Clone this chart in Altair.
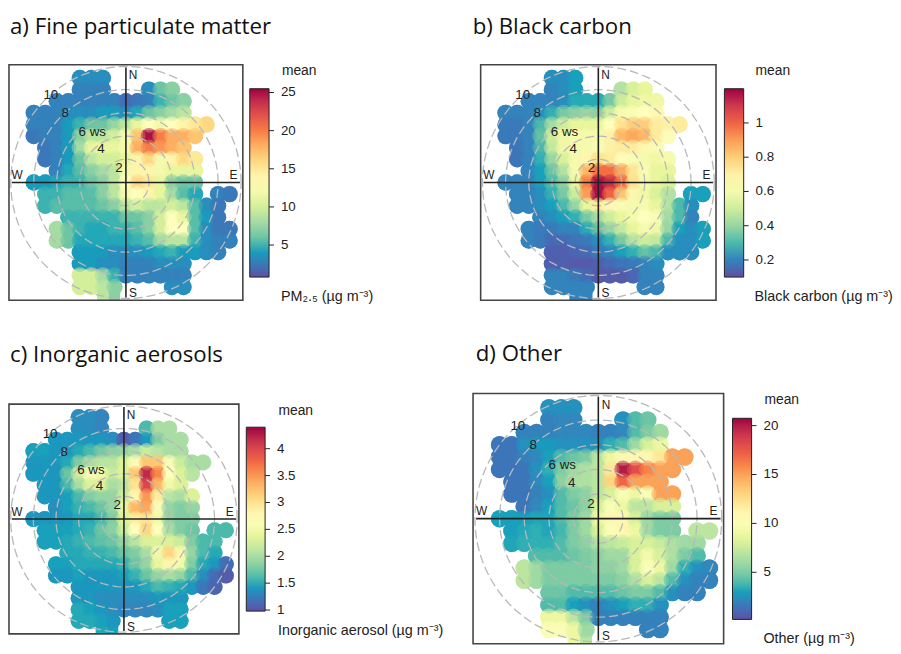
import altair as alt
import pandas as pd
import math

ROWS_V = [9, 8, 7, 6, 5, 4, 3, 2, 1, 0, -1, -2, -3, -4, -5, -6, -7, -8, -9, -10]
ROWS_U = [
    [-4, -3, -2],
    [-4, -3, -2, 2, 3, 4],
    list(range(-6, 6)),
    list(range(-8, 6)),
    list(range(-8, 8)),
    list(range(-8, 7)),
    list(range(-7, 6)),
    list(range(-7, 7)),
    list(range(-6, 7)),
    list(range(-8, 7)),
    list(range(-7, 7)) + [8, 9],
    list(range(-7, 9)),
    list(range(-5, 9)),
    list(range(-6, 10)),
    list(range(-6, 10)),
    list(range(-4, 9)),
    list(range(-4, 6)),
    list(range(-4, 6)),
    [-4, -3, -2, -1, 4, 5],
    [-2, -1],
]

PM25 = [
    [3.5, 3.5, 3.5],
    [3, 3, 3, 3.5, 6, 7],
    [3, 3, 3, 3, 3, 3, 2, 2.5, 3, 5, 6, 7],
    [3, 3, 3, 3.5, 3.5, 3.5, 4, 4, 3.5, 4.5, 6, 7, 8, 9],
    [3, 3, 3, 4, 5, 6, 6, 7.5, 9, 11, 13, 12, 13, 14, 15, 16],
    [2.5, 3, 3, 4, 7, 9, 9, 10, 12, 17, 25, 20, 18, 18, 17],
    [2.5, 3, 4, 8, 11, 11, 11, 12, 18, 20, 19, 18, 17],
    [2.5, 3, 4, 6, 9, 10, 10, 11, 14, 16, 12, 14, 16, 15],
    [3, 4.5, 5.5, 7, 8, 9, 12, 14, 14, 12, 11, 11, 11],
    [4, 4, 4.5, 5, 5, 6, 7, 9, 13, 16, 15, 11, 7, 6, 6],
    [5, 5, 5.5, 5.5, 5.5, 7, 9, 12, 13, 14, 11, 8, 5.5, 4.5, 3, 2.5],
    [5, 5.5, 5.5, 5.5, 5.5, 6, 7, 9, 10, 9, 9, 10, 9, 5.5, 3.5, 2.5],
    [5, 5, 5, 5, 5, 6, 6, 7, 10, 13, 11, 5.5, 4, 2.5],
    [8, 6, 5, 4.5, 4.5, 5, 5, 5.5, 7, 10, 13, 13, 5.5, 3.5, 2.5, 2.5],
    [8, 6, 4.5, 4.5, 4.5, 4.5, 4.5, 5, 5.5, 8, 9, 9, 5, 3.5, 3, 3],
    [4, 4, 4, 3.5, 3.5, 3.5, 4, 4.5, 5, 4, 4, 3.5, 3],
    [4, 4, 3.5, 3.5, 3, 3, 3, 3.5, 3.5, 3.5],
    [10, 10, 8, 5, 3, 3, 3, 3, 3, 3],
    [10, 10, 9, 7, 3.5, 3.5],
    [9, 7],
]

BC = [
    [.22, .22, .25],
    [.2, .22, .25, .45, .52, .55],
    [.2, .2, .2, .22, .27, .27, .27, .35, .5, .55, .58, .58],
    [.2, .2, .2, .22, .28, .35, .38, .4, .38, .5, .6, .62, .65, .68],
    [.18, .18, .2, .3, .42, .5, .55, .55, .55, .65, .75, .8, .8, .72, .7, .72],
    [.18, .18, .2, .32, .5, .58, .6, .6, .6, .7, .85, .88, .85, .72, .66],
    [.17, .2, .3, .48, .58, .6, .6, .62, .7, .72, .72, .68, .62],
    [.17, .2, .28, .4, .52, .6, .68, .75, .72, .66, .62, .6, .58, .6],
    [.2, .25, .33, .45, .6, .85, .98, .98, .88, .74, .62, .55, .55],
    [.2, .2, .2, .25, .3, .38, .55, .95, 1.18, 1.12, .98, .75, .6, .55, .52],
    [.2, .2, .22, .28, .35, .5, .9, 1.18, 1.0, .82, .68, .58, .52, .45, .25, .25],
    [.2, .2, .22, .25, .3, .4, .55, .72, .68, .62, .6, .6, .55, .45, .3, .22],
    [.2, .22, .25, .28, .35, .42, .5, .55, .6, .65, .62, .42, .3, .2],
    [.2, .18, .18, .2, .2, .27, .32, .4, .48, .55, .6, .58, .4, .25, .22, .25],
    [.2, .18, .15, .15, .17, .18, .22, .28, .35, .45, .5, .48, .3, .22, .22, .25],
    [.13, .13, .14, .15, .18, .2, .25, .28, .32, .3, .22, .22, .22],
    [.13, .13, .12, .12, .13, .15, .17, .18, .2, .22],
    [.2, .2, .18, .15, .12, .12, .12, .14, .2, .2],
    [.2, .2, .2, .2, .2, .2],
    [.2, .2],
]

INORGANIC = [
    [1.35, 1.35, 1.3],
    [1.35, 1.35, 1.3, 1.6, 2.0, 2.0],
    [1.4, 1.4, 1.4, 1.4, 1.4, 1.35, 1.05, 1.2, 1.4, 1.8, 2, 2],
    [1.45, 1.45, 1.4, 1.4, 1.5, 1.6, 1.75, 1.85, 1.9, 2.0, 2.2, 2.1, 2.0, 2.0],
    [1.4, 1.4, 1.4, 1.5, 1.8, 2.0, 2.1, 2.1, 2.3, 2.6, 3.2, 3.2, 2.6, 2.2, 2.0, 2.0],
    [1.4, 1.4, 1.4, 1.7, 2.2, 2.6, 2.5, 2.2, 2.3, 3.2, 4.2, 3.6, 2.7, 2.3, 2.1],
    [1.4, 1.4, 1.6, 2.0, 2.3, 2.3, 2, 2.1, 3.0, 4.0, 3.3, 2.5, 2.3],
    [1.4, 1.4, 1.45, 1.6, 1.8, 1.9, 1.9, 2.2, 2.8, 3.5, 2.9, 2.1, 2.0, 2.3],
    [1.35, 1.45, 1.55, 1.6, 1.7, 1.9, 2.4, 3.3, 3.4, 2.6, 1.9, 1.8, 1.9],
    [1.4, 1.4, 1.4, 1.4, 1.5, 1.5, 1.6, 1.8, 2.3, 2.9, 3.0, 2.5, 1.9, 1.8, 1.8],
    [1.45, 1.45, 1.45, 1.5, 1.55, 1.7, 1.85, 2.2, 2.7, 3.1, 2.7, 2, 1.8, 1.7, 1.6, 1.6],
    [1.45, 1.45, 1.5, 1.55, 1.6, 1.65, 1.7, 1.9, 2.1, 2.3, 2.3, 2.3, 2.2, 1.8, 1.6, 1.6],
    [1.5, 1.5, 1.55, 1.55, 1.6, 1.7, 1.8, 2.0, 2.5, 3.1, 2.8, 1.9, 1.6, 1.5],
    [1.45, 1.45, 1.5, 1.5, 1.5, 1.5, 1.55, 1.7, 1.9, 2.4, 2.8, 2.5, 1.8, 1.5, 1.4, 1.15],
    [1.4, 1.4, 1.45, 1.4, 1.4, 1.4, 1.45, 1.55, 1.7, 1.9, 2.0, 1.9, 1.6, 1.35, 1.15, 1.05],
    [1.4, 1.4, 1.4, 1.4, 1.4, 1.4, 1.5, 1.6, 1.55, 1.5, 1.4, 1.2, 1.1],
    [1.4, 1.4, 1.35, 1.35, 1.35, 1.35, 1.35, 1.4, 1.4, 1.4],
    [1.5, 1.45, 1.4, 1.35, 1.3, 1.3, 1.3, 1.35, 1.45, 1.45],
    [1.5, 1.5, 1.45, 1.4, 1.45, 1.45],
    [1.5, 1.45],
]

OTHER = [
    [2.5, 2.5, 2.5],
    [2, 2.2, 2.2, 2.5, 4, 4.5],
    [2, 2, 2, 2.2, 2.2, 2.2, 2, 2, 2.2, 4, 5, 6],
    [1.5, 1.5, 2.5, 2.8, 2.8, 2.5, 2.5, 2.5, 2.5, 3.5, 4, 6, 8, 9],
    [1.5, 1.5, 2, 2.2, 3, 4, 4.5, 5, 7, 9, 11, 11, 11, 12, 15, 15],
    [1.5, 1.5, 1.5, 2.5, 3.5, 5, 6, 6.5, 7, 12, 20, 18, 16, 15, 15],
    [1.5, 1.5, 2.2, 3, 5.5, 6.5, 6.5, 7, 13, 17, 15, 15, 15],
    [1.5, 1.5, 2, 2.5, 4, 5, 5.5, 7, 8, 10, 9, 10, 15, 15],
    [1.5, 2.2, 3, 4, 4.5, 5.5, 8, 10, 9, 7, 7, 8, 8],
    [3, 3, 3, 3.2, 3.2, 4, 5, 6, 9, 11, 11, 8, 6, 5, 5],
    [3, 3.3, 3.5, 3.2, 3.8, 5, 6, 8, 10, 11, 9, 6, 5, 5, 7, 7],
    [3.2, 3.5, 3.5, 3.5, 4, 5, 5.5, 6.5, 7, 7.5, 8, 8, 7.5, 6.5, 6, 6],
    [4, 4, 4, 4.5, 5, 5.5, 6, 6, 8, 9.5, 8, 6.5, 5, 4],
    [7, 6, 5, 5, 5, 5, 5.5, 5.5, 6, 8, 10, 9, 6, 3.5, 2.5, 2.2],
    [7, 6, 5, 5, 5, 5, 5, 5, 5.5, 6.5, 8, 7, 4, 2.5, 2, 2],
    [4.5, 4.5, 4, 4, 4, 4, 4.5, 5, 5, 4, 2.5, 2, 2],
    [4, 4, 3, 2.5, 2, 2.5, 3, 3.5, 3.5, 2.5],
    [9, 9, 7, 5, 2, 2, 2, 2, 2, 2],
    [10, 10, 9, 6, 2, 2],
    [9, 7],
]

SPECTRAL = ["#5E4FA2", "#3288BD", "#66C2A5", "#ABDDA4", "#E6F598", "#FFFFBF",
            "#FEE08B", "#FDAE61", "#F46D43", "#D53E4F", "#9E0142"]
RING_WS = [2, 4, 6, 8, 10]
WS_LABELS = ["10", "8", "6 ws", "4", "2"]
WS_LABEL_U = [-6.52, -5.28, -2.92, -2.16, -0.6]
WS_LABEL_V = [7.52, 5.96, 4.34, 2.87, 1.22]
COMPASS = ["N", "S", "W", "E"]
COMPASS_U = [0.62, 0.62, -9.45, 9.33]
COMPASS_V = [9.22, -9.56, 0.6, 0.6]
LIM = 10.15
ARIAL = "Liberation Sans"
FW, FH = 446, 321


def panel(values, key, title, tx, ty, box, bar, dom, ticks, unit, mean_xy, unit_xy):
    x0, x1, y0, y1 = box
    xs = alt.Scale(domain=[-LIM, LIM], range=[x0, x1])
    ys = alt.Scale(domain=[-LIM, LIM], range=[y1, y0])
    cell = (x1 - x0) / (2 * LIM)
    recs = []
    for v, us, vals in zip(ROWS_V, ROWS_U, values):
        for u, val in zip(us, vals):
            recs.append({"u": u, "v": v, "u0": u - .5, "u1": u + .5,
                         "v0": max(v - .5, -LIM), "v1": v + .5, key: val})
    df = pd.DataFrame(recs)
    bx0, bx1, by0, by1 = bar
    color = alt.Color(f"{key}:Q", scale=alt.Scale(domain=dom, range=SPECTRAL), legend=alt.Legend(
        orient="none", legendX=bx0, legendY=by0, title=None, values=ticks, format=".2~f",
        gradientLength=by1 - by0, gradientThickness=bx1 - bx0,
        gradientStrokeColor="#222", gradientStrokeWidth=1, labelOffset=12,
        labelFont=ARIAL, labelFontSize=13.5, labelColor="#222", labelOverlap=False))
    X = lambda f: alt.X(f, scale=xs, axis=None)
    Y = lambda f: alt.Y(f, scale=ys, axis=None)
    round_edge = alt.Chart(df).transform_filter("datum.v > -10").mark_circle(
        opacity=1, size=(1.42 * cell) ** 2).encode(x=X("u:Q"), y=Y("v:Q"), color=color)
    cells = alt.Chart(df).mark_rect().encode(
        x=X("u0:Q"), x2="u1:Q", y=Y("v0:Q"), y2="v1:Q", color=color)
    soft = alt.Chart(df).transform_filter("datum.v > -10").mark_circle(
        opacity=0.5, size=(1.42 * cell) ** 2).encode(x=X("u:Q"), y=Y("v:Q"), color=color)
    rings = pd.DataFrame([
        dict(r=r, i=i, x=r * math.cos(math.radians(i * 4)), y=r * math.sin(math.radians(i * 4)))
        for r in RING_WS for i in range(91)])
    ring = alt.Chart(rings).mark_line(color="#b8b8b8", strokeWidth=1.3, strokeDash=[9, 4]).encode(
        x=X("x:Q"), y=Y("y:Q"), detail="r:N", order="i:Q")
    cross_h = alt.Chart(pd.DataFrame(dict(a=[-9.9], b=[9.9], c=[0.0]))).mark_rule(
        color="#222", strokeWidth=1.6).encode(x=X("a:Q"), x2="b:Q", y=Y("c:Q"))
    cross_v = alt.Chart(pd.DataFrame(dict(c=[-9.9], d=[9.9], a=[0.0]))).mark_rule(
        color="#222", strokeWidth=1.6).encode(x=X("a:Q"), y=Y("c:Q"), y2="d:Q")
    frame = alt.Chart(pd.DataFrame(dict(a=[-LIM], b=[LIM], c=[-LIM], d=[LIM]))).mark_rect(
        fill=None, stroke="#444", strokeWidth=1.6).encode(
        x=X("a:Q"), x2="b:Q", y=Y("c:Q"), y2="d:Q")
    ws = alt.Chart(pd.DataFrame(dict(x=WS_LABEL_U, y=WS_LABEL_V, t=WS_LABELS))).mark_text(
        font=ARIAL, fontSize=13.5, color="#222").encode(x=X("x:Q"), y=Y("y:Q"), text="t:N")
    comp = alt.Chart(pd.DataFrame(dict(x=COMPASS_U, y=COMPASS_V, t=COMPASS))).mark_text(
        font=ARIAL, fontSize=12, color="#222").encode(x=X("x:Q"), y=Y("y:Q"), text="t:N")
    tick = alt.Chart(pd.DataFrame(dict(t=ticks))).mark_rule(color="#222").encode(
        x=alt.value(bx1), x2=alt.value(bx1 + 5),
        y=alt.Y("t:Q", scale=alt.Scale(domain=dom, range=[by1, by0]), axis=None))
    base_txt = alt.Chart(pd.DataFrame(dict(k=[0])))
    mean = base_txt.mark_text(text="mean", font=ARIAL, fontSize=14, color="#222", align="left").encode(
        x=alt.value(mean_xy[0]), y=alt.value(mean_xy[1]))
    unit_t = base_txt.mark_text(text=unit, font=ARIAL, fontSize=14.5, color="#222", align="left").encode(
        x=alt.value(unit_xy[0]), y=alt.value(unit_xy[1]))
    head = base_txt.mark_text(text=title, font="Open Sans", fontSize=22.5, color="#111", align="left"
                              ).encode(x=alt.value(tx), y=alt.value(ty))
    return alt.layer(round_edge, cells, soft, ring, cross_h, cross_v, frame, ws, comp, tick, mean, unit_t, head
                     ).resolve_scale(y="independent").properties(width=FW, height=FH)


OA = (8, 8)
OB = (4 + FW, 8)
OC = (8, 8 + FH)
OD = (4 + FW, 8 + FH)


def sub(o, bx):
    return (bx[0] - o[0], bx[1] - o[0], bx[2] - o[1], bx[3] - o[1])


def pt(o, p):
    return (p[0] - o[0], p[1] - o[1])


a = panel(PM25, "pm", "a) Fine particulate matter", *pt(OA, (10, 23.4)),
          sub(OA, (9, 245.5, 61.7, 300)), sub(OA, (252.5, 272, 86, 276.5)), [0.8, 25.5], [5, 10, 15, 20, 25],
          "PM₂.₅ (µg m⁻³)", pt(OA, (285, 68)), pt(OA, (284, 297)))
b = panel(BC, "bc", "b) Black carbon", *pt(OB, (474, 23.4)),
          sub(OB, (482, 720, 61.7, 300)), sub(OB, (728.5, 748, 86, 276.5)), [0.1, 1.2], [0.2, 0.4, 0.6, 0.8, 1],
          "Black carbon (µg m⁻³)", pt(OB, (760, 68)), pt(OB, (759, 297)))
c = panel(INORGANIC, "ia", "c) Inorganic aerosols", *pt(OC, (10, 355)),
          sub(OC, (9, 241.5, 405, 637.3)), sub(OC, (249, 268, 428.3, 614.3)), [0.98, 4.4],
          [1, 1.5, 2, 2.5, 3, 3.5, 4],
          "Inorganic aerosol (µg m⁻³)", pt(OC, (281.5, 412)), pt(OC, (281, 634)))
d = panel(OTHER, "ot", "d) Other", *pt(OD, (477, 354)),
          sub(OD, (474.3, 727.7, 394.3, 647.3)), sub(OD, (736.7, 756, 419.3, 622.7)), [0.18, 20.75], [5, 10, 15, 20],
          "Other (µg m⁻³)", pt(OD, (769, 401)), pt(OD, (768, 643)))

chart = alt.concat(a, b, c, d, columns=2, spacing=0, bounds="flush").resolve_scale(
    color="independent").properties(padding=0).configure_view(stroke=None)
chart.save("out.html", embed_options={"renderer": "svg", "actions": False})
